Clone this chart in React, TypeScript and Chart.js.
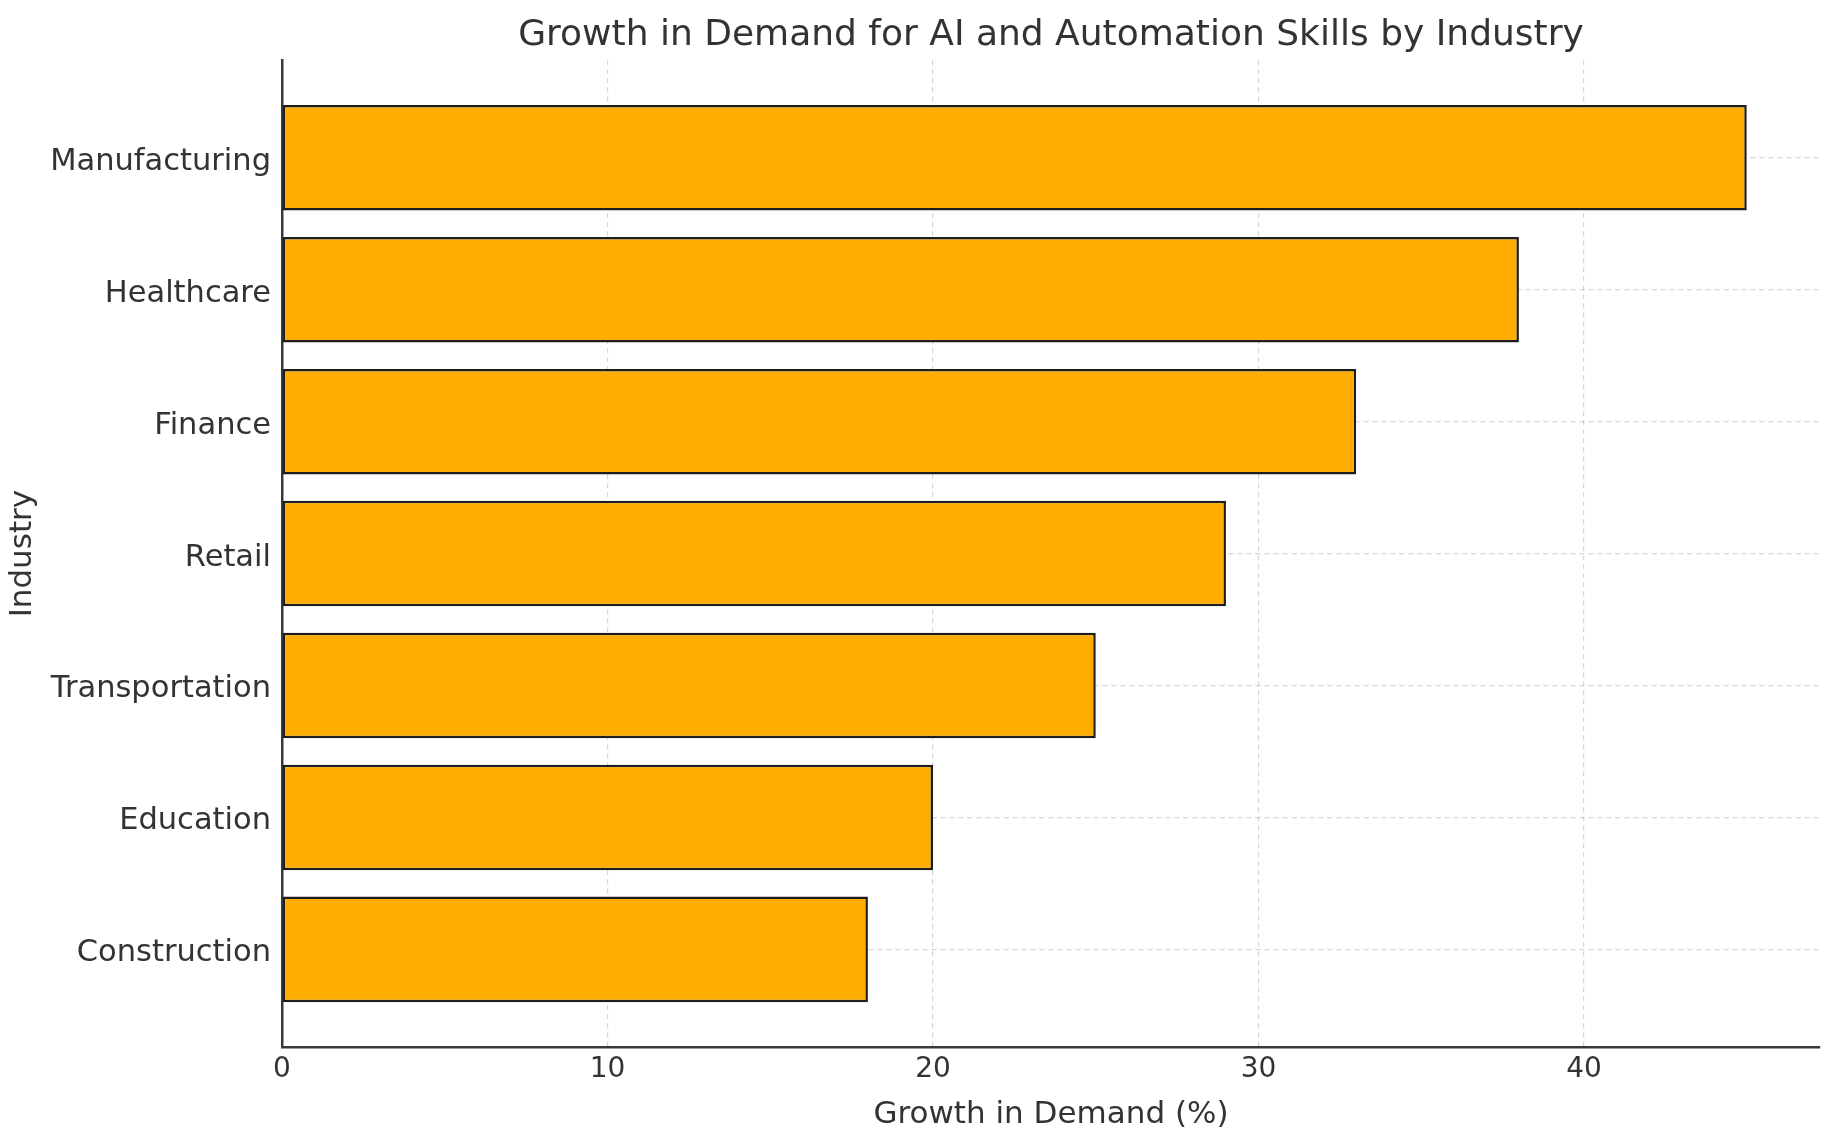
import React, { useEffect, useRef } from "react";
import { Chart, registerables } from "chart.js";

Chart.register(...registerables);

const categories = [
  "Manufacturing",
  "Healthcare",
  "Finance",
  "Retail",
  "Transportation",
  "Education",
  "Construction",
];
const growthValues = [45, 38, 33, 29, 25, 20, 18];
const xTickValues = [0, 10, 20, 30, 40];

const TITLE = "Growth in Demand for AI and Automation Skills by Industry";
const X_LABEL = "Growth in Demand (%)";
const Y_LABEL = "Industry";

export default function App() {
  const ref = useRef<HTMLCanvasElement | null>(null);

  useEffect(() => {
    if (!ref.current) return;
    const font = "'DejaVu Sans', 'Noto Sans', sans-serif";
    const textColor = "#333333";
    const gridColor = "rgba(180,180,180,0.55)";
    const chart = new Chart(ref.current, {
      type: "bar",
      data: {
        datasets: [
          {
            data: growthValues.map((v, i) => ({ x: v, y: i })),
            backgroundColor: "#FFAD00",
            borderColor: "#1e1e1e",
            borderWidth: 2.5,
            borderSkipped: false,
            barPercentage: 0.8,
            categoryPercentage: 1,
          },
        ],
      },
      options: {
        indexAxis: "y",
        animation: false,
        responsive: false,
        maintainAspectRatio: false,
        layout: { padding: { left: 0, right: 13, top: 0, bottom: 0 } },
        plugins: {
          legend: { display: false },
          tooltip: { enabled: false },
          title: {
            display: true,
            fullSize: false,
            text: TITLE,
            color: textColor,
            font: { family: font, size: 36, weight: "normal" },
            padding: { top: 14, bottom: 3 },
          },
        },
        scales: {
          x: {
            type: "linear",
            position: "bottom",
            min: 0,
            max: 47.25,
            offset: false,
            afterBuildTicks: (scale: any) => {
              scale.ticks = xTickValues.map((v) => ({ value: v }));
            },
            afterFit: (scale: any) => {
              scale.height = 95;
            },
            ticks: {
              color: textColor,
              font: { family: font, size: 28 },
              padding: 6,
            },
            grid: {
              display: true,
              offset: false,
              drawTicks: false,
              color: gridColor,
              lineWidth: 1.2,
            },
            border: {
              display: true,
              color: "#3a3a3a",
              width: 2.5,
              dash: [5, 4],
            } as any,
            title: {
              display: true,
              text: X_LABEL,
              color: textColor,
              font: { family: font, size: 31 },
              padding: { top: 0, bottom: 8 },
            },
          },
          y: {
            type: "linear",
            position: "left",
            reverse: true,
            min: -0.74,
            max: 6.74,
            offset: false,
            afterBuildTicks: (scale: any) => {
              scale.ticks = categories.map((_, i) => ({ value: i }));
            },
            afterFit: (scale: any) => {
              scale.width = 282;
            },
            ticks: {
              color: textColor,
              font: { family: font, size: 30.5 },
              padding: 11,
              labelOffset: 4,
              callback: (v: any) => categories[Math.round(Number(v))] ?? "",
            },
            grid: {
              display: true,
              offset: false,
              drawTicks: false,
              color: gridColor,
              lineWidth: 1.2,
            },
            border: {
              display: true,
              color: "#3a3a3a",
              width: 2.5,
              dash: [5, 4],
            } as any,
            title: {
              display: true,
              text: Y_LABEL,
              color: textColor,
              font: { family: font, size: 31 },
              padding: { top: 4, bottom: 0 },
            },
          },
        },
      },
    });
    return () => chart.destroy();
  }, []);

  return (
    <div
      style={{
        position: "fixed",
        left: 0,
        top: 0,
        width: 1833,
        height: 1142,
        background: "#ffffff",
      }}
    >
      <canvas ref={ref} width={1833} height={1142} style={{ width: 1833, height: 1142 }} />
    </div>
  );
}
